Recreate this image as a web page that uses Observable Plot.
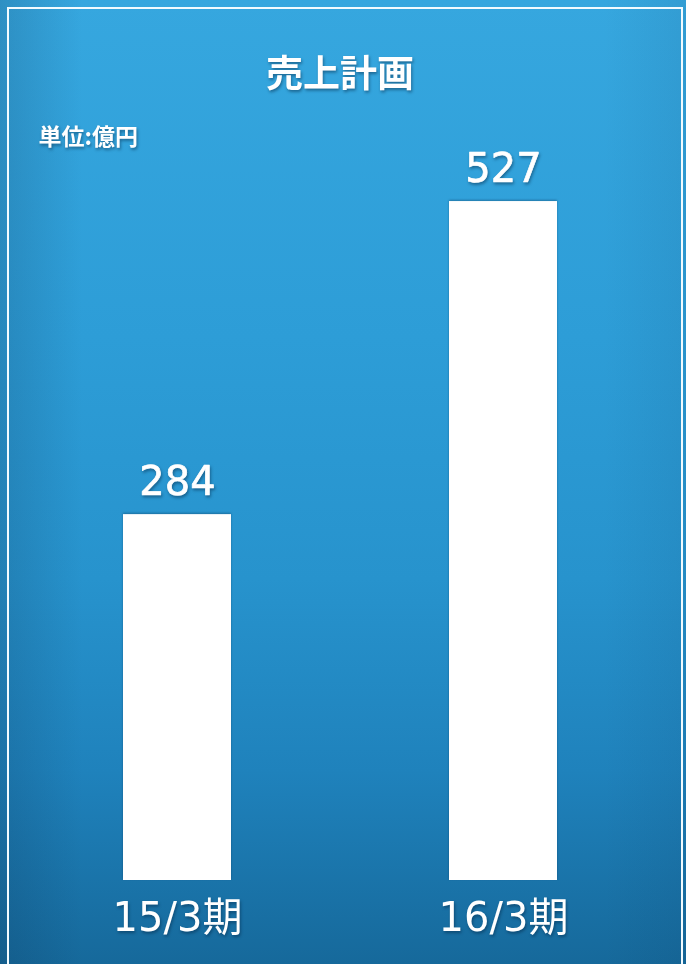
<!DOCTYPE html>
<html>
<head>
<meta charset="utf-8">
<script src="https://cdn.jsdelivr.net/npm/d3@7"></script>
<script src="https://cdn.jsdelivr.net/npm/@observablehq/plot@0.6"></script>
<style>
  html, body { margin: 0; padding: 0; }
  #chart {
    position: relative; width: 686px; height: 964px; overflow: hidden;
    background:
      linear-gradient(90deg, rgba(10,40,70,0.18) 0%, rgba(10,40,70,0) 12%, rgba(10,40,70,0) 88%, rgba(10,40,70,0.08) 100%),
      linear-gradient(180deg, #36a7df 0%, #2d9dd7 35%, #2793cd 60%, #1f82bc 80%, #16699b 100%);
  }
  #frame {
    position: absolute; left: 7px; top: 7px; width: 676px; height: 980px;
    border: 2.5px solid #f2fbff; box-sizing: border-box; pointer-events: none;
  }
  #chart svg { position: absolute; left: 0; top: 0; }
  #chart svg text { filter: drop-shadow(1px 2px 1.5px rgba(0,30,60,0.45)); }
  #chart svg rect { filter: drop-shadow(0px -1px 1px rgba(0,30,60,0.35)); }
</style>
</head>
<body>
<div id="chart"><div id="frame"></div></div>
<script>
const categories = ["15/3期", "16/3期"];
const values = [284, 527];
const title = "売上計画";
const unit = "単位:億円";

const data = categories.map((c, i) => ({ period: c, value: values[i] }));

const numFont = "'DejaVu Sans', 'Noto Sans CJK JP', sans-serif";
const jpFont = "'Noto Sans CJK JP', sans-serif";

const chart = Plot.plot({
  width: 686,
  height: 964,
  marginTop: 107,
  marginBottom: 84,
  marginLeft: 57,
  marginRight: 64,
  style: { background: "transparent", overflow: "visible" },
  x: { domain: categories, paddingInner: 0.669, paddingOuter: 0.2, axis: null },
  y: { domain: [0, 600], axis: null },
  marks: [
    Plot.barY(data, { x: "period", y: "value", fill: "#ffffff" }),
    Plot.text(data, {
      x: "period", y: "value", text: d => String(d.value),
      lineAnchor: "bottom", dy: -20,
      fill: "#ffffff", stroke: "#ffffff", strokeWidth: 0.7,
      fontSize: 40, fontFamily: numFont, fontWeight: "normal"
    }),
    Plot.axisX({
      tickSize: 0, tickPadding: 22, fontSize: 40, fill: "#ffffff",
      stroke: "#ffffff", strokeWidth: 0.7,
      fontFamily: numFont, label: null
    }),
    Plot.text([title], {
      text: d => d, frameAnchor: "top", lineAnchor: "middle", dy: -32,
      fill: "#ffffff", fontSize: 37, fontWeight: "bold", fontFamily: jpFont
    }),
    Plot.text([unit], {
      text: d => d, frameAnchor: "top-left", lineAnchor: "middle", textAnchor: "start", dx: -19, dy: 30,
      fill: "#ffffff", fontSize: 23, fontWeight: "bold", fontFamily: jpFont
    })
  ]
});
document.getElementById("chart").appendChild(chart);
</script>
</body>
</html>
